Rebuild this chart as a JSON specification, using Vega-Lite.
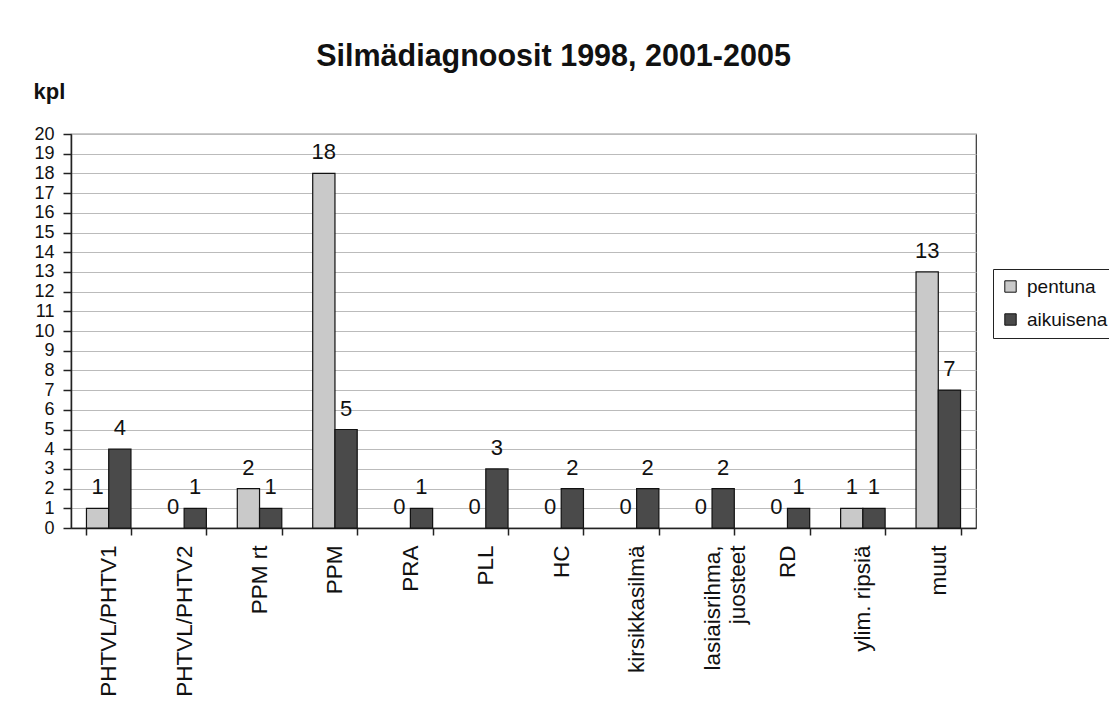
{
  "$schema": "https://vega.github.io/schema/vega-lite/v6.json",
  "autosize": "none",
  "width": 905,
  "height": 394,
  "padding": {"left": 71, "top": 134, "right": 133, "bottom": 182},
  "background": "white",
  "title": {
    "text": "Silmädiagnoosit 1998, 2001-2005",
    "font": "Liberation Sans",
    "fontSize": 30.5,
    "fontWeight": "bold",
    "color": "#111",
    "anchor": "middle",
    "dx": 30,
    "offset": 8
  },
  "data": {
    "values": [
      {"diagnoosi": "PHTVL/PHTV1", "ryhma": "pentuna", "kpl": 1},
      {"diagnoosi": "PHTVL/PHTV1", "ryhma": "aikuisena", "kpl": 4},
      {"diagnoosi": "PHTVL/PHTV2", "ryhma": "pentuna", "kpl": 0},
      {"diagnoosi": "PHTVL/PHTV2", "ryhma": "aikuisena", "kpl": 1},
      {"diagnoosi": "PPM rt", "ryhma": "pentuna", "kpl": 2},
      {"diagnoosi": "PPM rt", "ryhma": "aikuisena", "kpl": 1},
      {"diagnoosi": "PPM", "ryhma": "pentuna", "kpl": 18},
      {"diagnoosi": "PPM", "ryhma": "aikuisena", "kpl": 5},
      {"diagnoosi": "PRA", "ryhma": "pentuna", "kpl": 0},
      {"diagnoosi": "PRA", "ryhma": "aikuisena", "kpl": 1},
      {"diagnoosi": "PLL", "ryhma": "pentuna", "kpl": 0},
      {"diagnoosi": "PLL", "ryhma": "aikuisena", "kpl": 3},
      {"diagnoosi": "HC", "ryhma": "pentuna", "kpl": 0},
      {"diagnoosi": "HC", "ryhma": "aikuisena", "kpl": 2},
      {"diagnoosi": "kirsikkasilmä", "ryhma": "pentuna", "kpl": 0},
      {"diagnoosi": "kirsikkasilmä", "ryhma": "aikuisena", "kpl": 2},
      {"diagnoosi": "lasiaisrihma, juosteet", "ryhma": "pentuna", "kpl": 0},
      {"diagnoosi": "lasiaisrihma, juosteet", "ryhma": "aikuisena", "kpl": 2},
      {"diagnoosi": "RD", "ryhma": "pentuna", "kpl": 0},
      {"diagnoosi": "RD", "ryhma": "aikuisena", "kpl": 1},
      {"diagnoosi": "ylim. ripsiä", "ryhma": "pentuna", "kpl": 1},
      {"diagnoosi": "ylim. ripsiä", "ryhma": "aikuisena", "kpl": 1},
      {"diagnoosi": "muut", "ryhma": "pentuna", "kpl": 13},
      {"diagnoosi": "muut", "ryhma": "aikuisena", "kpl": 7}
    ]
  },
  "encoding": {
    "x": {
      "field": "diagnoosi",
      "type": "nominal",
      "sort": null,
      "scale": {"paddingInner": 0.41, "paddingOuter": 0.205},
      "axis": {
        "title": null,
        "labelAngle": 270,
        "labelAlign": "right",
        "labelBaseline": "middle",
        "labelFont": "Liberation Sans",
        "labelFontSize": 22.5,
        "labelColor": "#111",
        "labelPadding": 10,
        "labelLimit": 300,
        "labelLineHeight": 25,
        "labelExpr": "datum.label == 'lasiaisrihma, juosteet' ? ['lasiaisrihma,', '    juosteet'] : datum.label",
        "domainColor": "#222",
        "domainWidth": 1.5,
        "tickColor": "#222",
        "tickWidth": 1.5,
        "tickSize": 7,
        "tickBand": "extent",
        "bandPosition": 0,
        "grid": false
      }
    },
    "xOffset": {
      "field": "ryhma",
      "type": "nominal",
      "sort": ["pentuna", "aikuisena"]
    },
    "y": {
      "field": "kpl",
      "type": "quantitative",
      "scale": {"domain": [0, 20], "nice": false},
      "axis": {
        "title": "kpl",
        "titleAngle": 0,
        "titleX": -38,
        "titleY": -36,
        "titleAlign": "left",
        "titleBaseline": "alphabetic",
        "titleFont": "Liberation Sans",
        "titleFontSize": 22,
        "titleFontWeight": "bold",
        "titleColor": "#111",
        "values": [0,1,2,3,4,5,6,7,8,9,10,11,12,13,14,15,16,17,18,19,20],
        "labelFont": "Liberation Sans",
        "labelFontSize": 18,
        "labelColor": "#111",
        "labelPadding": 9,
        "tickSize": 8,
        "tickColor": "#222",
        "tickWidth": 1.5,
        "domainColor": "#222",
        "domainWidth": 1.5,
        "gridColor": "#bbbbbb",
        "gridWidth": 1
      }
    }
  },
  "layer": [
    {
      "mark": {"type": "bar", "stroke": "#111", "strokeWidth": 1.2},
      "encoding": {
        "strokeOpacity": {
          "condition": {"test": "datum.kpl == 0", "value": 0},
          "value": 1
        },
        "color": {
          "field": "ryhma",
          "type": "nominal",
          "sort": ["pentuna", "aikuisena"],
          "scale": {"domain": ["pentuna", "aikuisena"], "range": ["#c9c9c9", "#4a4a4a"]},
          "legend": {
            "title": null,
            "orient": "none",
            "legendX": 922,
            "legendY": 135,
            "symbolType": "square",
            "symbolSize": 130,
            "symbolStrokeColor": "#111",
            "symbolStrokeWidth": 1,
            "labelFont": "Liberation Sans",
            "labelFontSize": 19,
            "labelColor": "#111",
            "labelOffset": 7,
            "rowPadding": 13,
            "strokeColor": "#222",
            "padding": 8,
            "labelLimit": 200
          }
        }
      }
    },
    {
      "mark": {
        "type": "text",
        "baseline": "bottom",
        "dy": -9,
        "font": "Liberation Sans",
        "fontSize": 22,
        "color": "#111"
      },
      "encoding": {
        "text": {"field": "kpl", "type": "quantitative"}
      }
    }
  ],
  "config": {
    "view": {"stroke": "#333", "strokeWidth": 1.2}
  }
}
